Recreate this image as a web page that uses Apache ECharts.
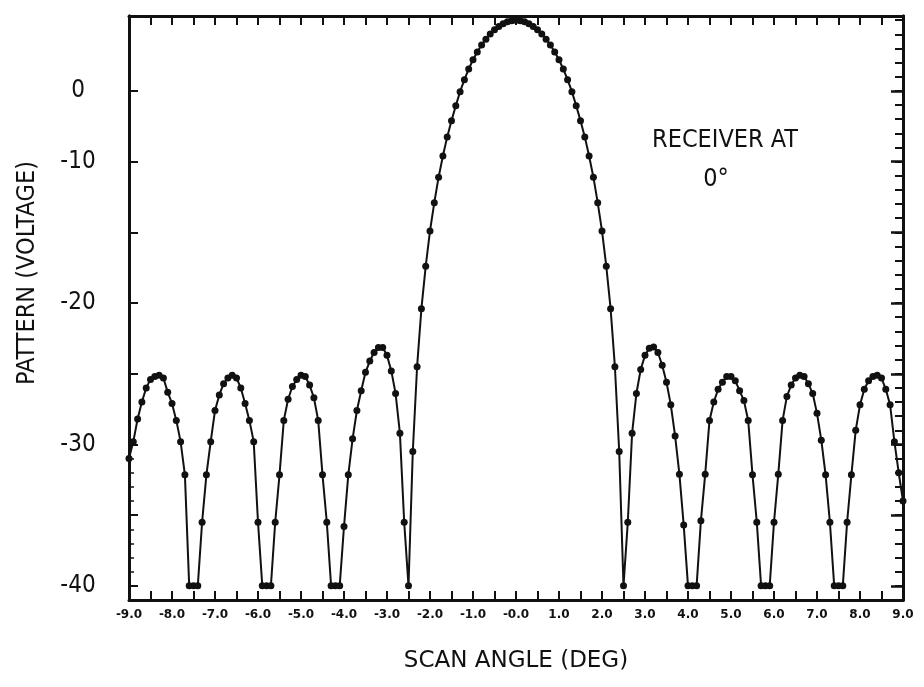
<!DOCTYPE html>
<html><head><meta charset="utf-8">
<script src="https://cdn.jsdelivr.net/npm/echarts@6/dist/echarts.min.js"></script>
<style>html,body{margin:0;padding:0;background:#fff}#c{width:924px;height:687px}</style>
</head><body><div id="c"></div>
<script>
const scanAngles = [
-9.0,-8.9,-8.8,-8.7,-8.6,-8.5,-8.4,-8.3,-8.2,-8.1,
-8.0,-7.9,-7.8,-7.7,-7.6,-7.5,-7.4,-7.3,-7.2,-7.1,
-7.0,-6.9,-6.8,-6.7,-6.6,-6.5,-6.4,-6.3,-6.2,-6.1,
-6.0,-5.9,-5.8,-5.7,-5.6,-5.5,-5.4,-5.3,-5.2,-5.1,
-5.0,-4.9,-4.8,-4.7,-4.6,-4.5,-4.4,-4.3,-4.2,-4.1,
-4.0,-3.9,-3.8,-3.7,-3.6,-3.5,-3.4,-3.3,-3.2,-3.1,
-3.0,-2.9,-2.8,-2.7,-2.6,-2.5,-2.4,-2.3,-2.2,-2.1,
-2.0,-1.9,-1.8,-1.7,-1.6,-1.5,-1.4,-1.3,-1.2,-1.1,
-1.0,-0.9,-0.8,-0.7,-0.6,-0.5,-0.4,-0.3,-0.2,-0.1,
0.0,
0.1,0.2,0.3,0.4,0.5,0.6,0.7,0.8,0.9,1.0,
1.1,1.2,1.3,1.4,1.5,1.6,1.7,1.8,1.9,2.0,
2.1,2.2,2.3,2.4,2.5,2.6,2.7,2.8,2.9,3.0,
3.1,3.2,3.3,3.4,3.5,3.6,3.7,3.8,3.9,4.0,
4.1,4.2,4.3,4.4,4.5,4.6,4.7,4.8,4.9,5.0,
5.1,5.2,5.3,5.4,5.5,5.6,5.7,5.8,5.9,6.0,
6.1,6.2,6.3,6.4,6.5,6.6,6.7,6.8,6.9,7.0,
7.1,7.2,7.3,7.4,7.5,7.6,7.7,7.8,7.9,8.0,
8.1,8.2,8.3,8.4,8.5,8.6,8.7,8.8,8.9,9.0
];
const patternVoltage = [
-31.0,-29.8,-28.2,-27.0,-26.0,-25.4,-25.2,-25.1,-25.3,-26.3,
-27.1,-28.3,-29.8,-32.15,-40,-40,-40,-35.5,-32.15,-29.8,
-27.6,-26.5,-25.7,-25.3,-25.1,-25.3,-26.0,-27.1,-28.3,-29.8,
-35.5,-40,-40,-40,-35.5,-32.15,-28.3,-26.8,-25.9,-25.4,
-25.1,-25.2,-25.8,-26.7,-28.3,-32.15,-35.5,-40,-40,-40,
-35.8,-32.15,-29.6,-27.6,-26.2,-24.9,-24.1,-23.5,-23.15,-23.15,
-23.7,-24.8,-26.4,-29.2,-35.5,-40,-30.5,-24.5,-20.4,-17.4,
-14.9,-12.9,-11.1,-9.6,-8.25,-7.1,-6.05,-5.05,-4.2,-3.45,
-2.8,-2.25,-1.75,-1.34,-0.98,-0.68,-0.44,-0.25,-0.11,-0.03,
0.0,
-0.03,-0.11,-0.25,-0.44,-0.68,-0.98,-1.34,-1.75,-2.25,-2.8,
-3.45,-4.2,-5.05,-6.05,-7.1,-8.25,-9.6,-11.1,-12.9,-14.9,
-17.4,-20.4,-24.5,-30.5,-40,-35.5,-29.2,-26.4,-24.7,-23.7,
-23.2,-23.1,-23.5,-24.4,-25.6,-27.2,-29.4,-32.1,-35.7,-40,
-40,-40,-35.4,-32.1,-28.3,-27.0,-26.1,-25.6,-25.2,-25.2,
-25.5,-26.2,-26.9,-28.3,-32.15,-35.5,-40,-40,-40,-35.5,
-32.1,-28.3,-26.6,-25.8,-25.3,-25.1,-25.2,-25.7,-26.4,-27.8,
-29.7,-32.15,-35.5,-40,-40,-40,-35.5,-32.15,-29.0,-27.2,
-26.1,-25.5,-25.2,-25.1,-25.3,-26.1,-27.2,-29.8,-32.0,-34.0
];
const xLabelValues = [-9,-8,-7,-6,-5,-4,-3,-2,-1,0,1,2,3,4,5,6,7,8,9];
const xLabelTexts = ['-9.0','-8.0','-7.0','-6.0','-5.0','-4.0','-3.0','-2.0','-1.0','-0.0','1.0','2.0','3.0','4.0','5.0','6.0','7.0','8.0','9.0'];
const yLabelValues = [-5,-10,-20,-30,-40];
const yLabelTexts = ['0','-10','-20','-30','-40'];
const yMajorTicks = [-5,-10,-15,-20,-25,-30,-35,-40];
const yLeftMinorTicks = [-31,-32,-33,-34,-36,-37,-38,-39];
const yRightTicks = [0,-1,-2,-3,-4,-5,-6,-7,-8,-9,-10,-11,-12,-13,-14,-15,-16,-17,-18,-19,-20,-21,-22,-23,-24,-25,-26,-27,-28,-29,-30,-31,-32,-33,-34,-35,-36,-37,-38,-39,-40];
const annotationLines = ['RECEIVER AT','0°'];
const xName = 'SCAN ANGLE (DEG)';
const yName = 'PATTERN (VOLTAGE)';

const FONT = "'Liberation Sans Narrow','DejaVu Sans Condensed','Liberation Sans',sans-serif";
const INK = '#111';
const Y_MIN = -41, Y_MAX = 0.3;

const chart = echarts.init(document.getElementById('c'), null, {renderer: 'canvas'});
const seriesData = scanAngles.map((a, i) => [a, patternVoltage[i]]);

function yAxisBase(extra) {
  return Object.assign({
    type: 'value', min: Y_MIN, max: Y_MAX,
    splitLine: {show: false},
    axisLine: {show: true, onZero: false, lineStyle: {color: INK, width: 3}},
    axisLabel: {show: false},
    axisTick: {show: false}
  }, extra);
}
function xAxisBase(extra) {
  return Object.assign({
    type: 'value', min: -9, max: 9, interval: 0.5,
    splitLine: {show: false},
    axisLine: {show: true, onZero: false, lineStyle: {color: INK, width: 3}},
    axisLabel: {show: false},
    axisTick: {show: true, inside: true, length: 9, lineStyle: {color: INK, width: 2}}
  }, extra);
}

chart.setOption({
  animation: false,
  backgroundColor: '#fff',
  grid: {left: 129, right: 21, top: 16, bottom: 87, show: false},
  xAxis: [
    xAxisBase({
      position: 'bottom',
      name: xName, nameLocation: 'middle', nameGap: 50,
      nameTextStyle: {fontFamily: "'DejaVu Sans',sans-serif", fontSize: 23, color: INK},
      axisLabel: {
        show: true, customValues: xLabelValues, margin: 9,
        fontFamily: "'DejaVu Sans',sans-serif", fontWeight: 900, fontSize: 12, color: INK,
        formatter: v => xLabelTexts[xLabelValues.indexOf(Math.round(v))] || ''
      }
    }),
    xAxisBase({position: 'top'})
  ],
  yAxis: [
    yAxisBase({
      position: 'left',
      axisTick: {show: true, inside: true, length: 9, customValues: yMajorTicks, lineStyle: {color: INK, width: 2}},
      axisLabel: {
        show: true, customValues: yLabelValues, margin: 51, align: 'center',
        fontFamily: FONT, fontSize: 24, color: INK,
        formatter: v => yLabelTexts[yLabelValues.indexOf(Math.round(v))] || ''
      }
    }),
    yAxisBase({
      position: 'left',
      axisTick: {show: true, inside: true, length: 5, customValues: yLeftMinorTicks, lineStyle: {color: INK, width: 1.5}}
    }),
    yAxisBase({
      position: 'right',
      axisTick: {show: true, inside: true, length: 8, customValues: yRightTicks, lineStyle: {color: INK, width: 2}}
    }),
    yAxisBase({
      position: 'right',
      axisTick: {show: true, inside: true, length: 12, customValues: yMajorTicks, lineStyle: {color: INK, width: 2.5}}
    })
  ],
  series: [{
    type: 'line',
    xAxisIndex: 0, yAxisIndex: 0,
    data: seriesData,
    symbol: 'circle', symbolSize: 7,
    showAllSymbol: true,
    lineStyle: {color: INK, width: 2},
    itemStyle: {color: INK},
    clip: false,
    z: 5
  }],
  graphic: [
    {type: 'text', x: 27, y: 273, rotation: Math.PI / 2,
     style: {text: yName, font: "25px " + FONT, fill: INK, textAlign: 'center', textVerticalAlign: 'middle'}},
    {type: 'text', x: 725, y: 140,
     style: {text: annotationLines[0], font: "25px " + FONT, fill: INK, textAlign: 'center', textVerticalAlign: 'middle'}},
    {type: 'text', x: 716, y: 179,
     style: {text: annotationLines[1], font: "25px " + FONT, fill: INK, textAlign: 'center', textVerticalAlign: 'middle'}}
  ]
});
</script>
</body></html>
